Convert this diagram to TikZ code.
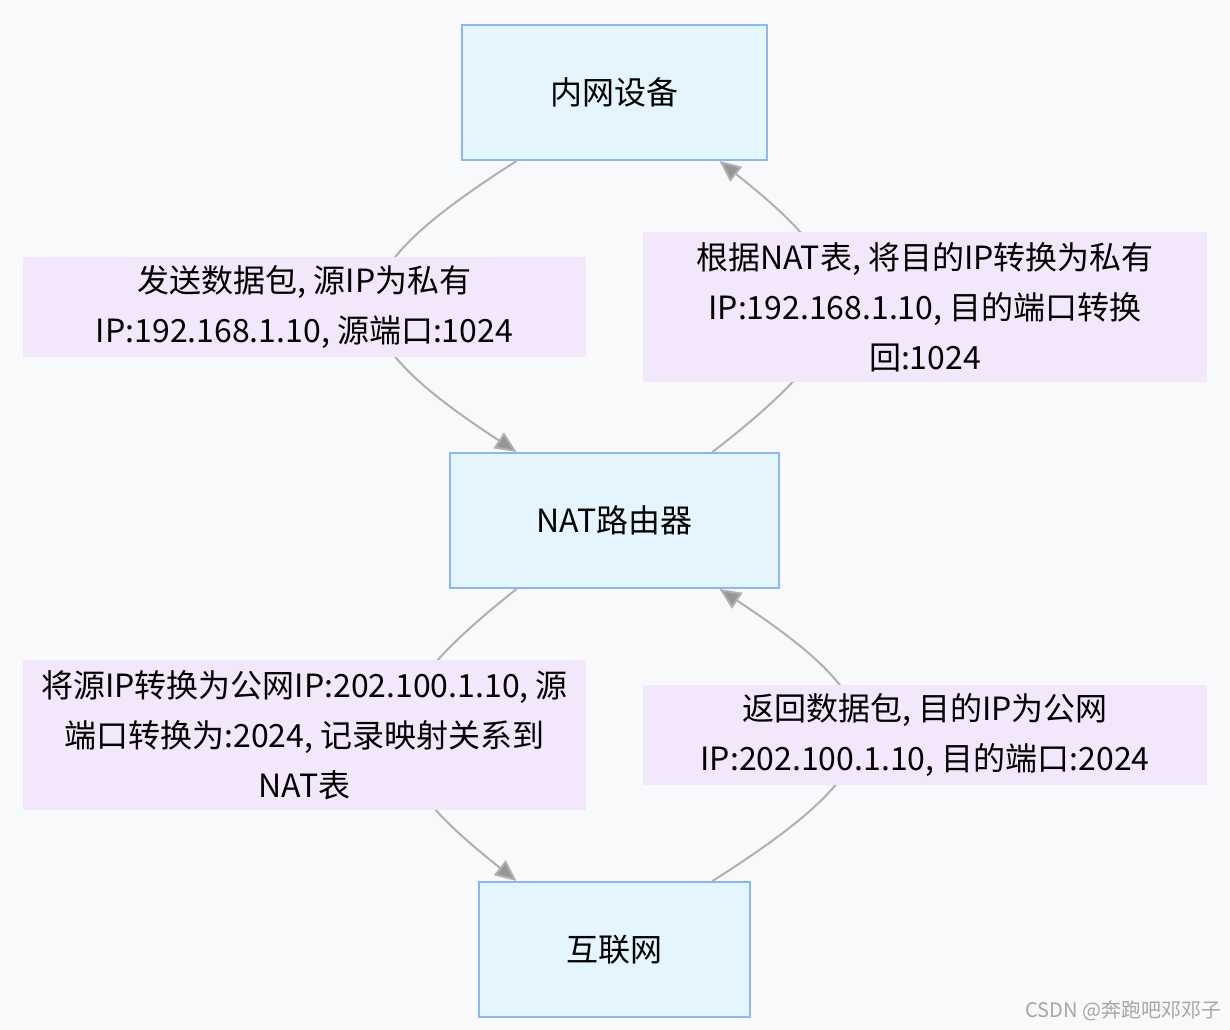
\documentclass[tikz,border=0pt]{standalone}
\usepackage{fontspec}
\setmainfont{Noto Sans CJK SC}
\usetikzlibrary{arrows.meta,calc}
\definecolor{bgc}{HTML}{F8F9FB}
\definecolor{boxfill}{HTML}{E4F5FE}
\definecolor{boxline}{HTML}{8DB6F7}
\definecolor{lblfill}{HTML}{F3E8FB}
\definecolor{linec}{HTML}{B0B0B0}
\tikzset{
  hostbox/.style={draw=boxline,line width=1.5pt,fill=boxfill,inner sep=0pt,font=\fontsize{24}{30}\selectfont},
  lblbox/.style={fill=lblfill,inner sep=0pt,align=center,font=\fontsize{24}{37.5}\selectfont},
  flow/.style={draw=linec,line width=1.5pt,-{Triangle[length=16pt,width=14pt,fill=linec!85!black]}}
}
\begin{document}
\begin{tikzpicture}[x=0.75pt,y=-0.75pt]
\fill[bgc] (0,0) rectangle (1230,1030);
% hosts
\node[hostbox,minimum width=305*0.75pt,minimum height=135*0.75pt] (dev) at (614.5,92.5) {内网设备};
\node[hostbox,minimum width=329*0.75pt,minimum height=135*0.75pt] (nat) at (614.5,520.5) {NAT路由器};
\node[hostbox,minimum width=271*0.75pt,minimum height=135*0.75pt] (net) at (614.5,949.5) {互联网};
% connectors
\draw[flow] ($(dev.south)+(-98,0)$) .. controls (330,280) and (330,330) .. ($(nat.north)+(-98,0)$);
\draw[flow] ($(nat.north)+(98,0)$) .. controls (870,330) and (870,280) .. ($(dev.south)+(105,0)$);
\draw[flow] ($(nat.south)+(-98,0)$) .. controls (364,710) and (364,760) .. ($(net.north)+(-98,0)$);
\draw[flow] ($(net.north)+(98,0)$) .. controls (903,760) and (903,710) .. ($(nat.south)+(105,0)$);
% labels
\node[lblbox,minimum width=563*0.75pt,minimum height=100*0.75pt] (send) at (304.5,307) {发送数据包, 源IP为私有\\IP:192.168.1.10, 源端口:1024};
\node[lblbox,minimum width=564*0.75pt,minimum height=150*0.75pt] (back) at (925,307) {根据NAT表, 将目的IP转换为私有\\IP:192.168.1.10, 目的端口转换\\回:1024};
\node[lblbox,minimum width=563*0.75pt,minimum height=150*0.75pt] (map) at (304.5,735) {将源IP转换为公网IP:202.100.1.10, 源\\端口转换为:2024, 记录映射关系到\\NAT表};
\node[lblbox,minimum width=564*0.75pt,minimum height=100*0.75pt] (reply) at (925,735) {返回数据包, 目的IP为公网\\IP:202.100.1.10, 目的端口:2024};
\node[anchor=south east,text=gray!70,font=\fontsize{15}{18}\selectfont] (mark) at (1226,1026) {CSDN @奔跑吧邓邓子};
\end{tikzpicture}
\end{document}
